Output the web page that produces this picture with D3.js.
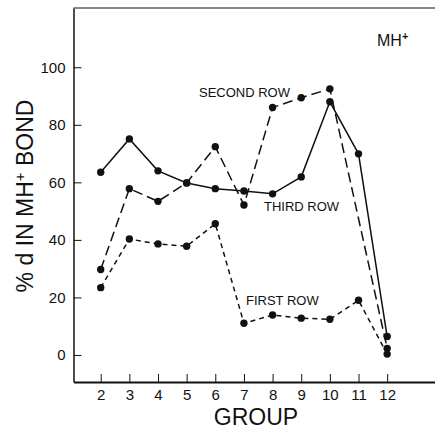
<!DOCTYPE html>
<html><head><meta charset="utf-8">
<script src="https://cdn.jsdelivr.net/npm/d3@7"></script>
<style>
html,body{margin:0;padding:0;background:#fff;}
svg{display:block;font-family:"Liberation Sans",Arial,Helvetica,sans-serif;}
</style></head>
<body>
<script>
const groups = [2,3,4,5,6,7,8,9,10,11,12];
const thirdRow  = [63.5,75.1,64.0,59.8,57.8,57.0,56.0,61.9,88.0,69.9,6.4];
const secondRow = [29.7,57.8,53.4,59.8,72.4,52.1,86.0,89.4,92.5,null,2.3];
const firstRow  = [23.4,40.3,38.6,37.8,45.6,11.0,13.9,12.8,12.4,19.0,0.3];
const yTicks = [0,20,40,60,80,100];
const seriesNames = ["THIRD ROW","SECOND ROW","FIRST ROW"];

const W = 435, H = 431;
const svg = d3.select("body").append("svg").attr("width", W).attr("height", H);

const x = d3.scaleLinear().domain([1.05, 13.67]).range([73.5, 435]);
const y = d3.scaleLinear().domain([-9.4, 120.6]).range([382, 8]);

// frame top
svg.append("line").attr("x1",x(1.05)).attr("x2",x(13.67)).attr("y1",y(120.6)).attr("y2",y(120.6))
  .attr("stroke","#111").attr("stroke-width",1.2);

// axes
const yAxis = d3.axisLeft(y).tickValues(yTicks).tickSizeInner(-8).tickSizeOuter(0).tickPadding(8);
const gy = svg.append("g").attr("transform",`translate(${x(1.05)},0)`).call(yAxis);
gy.select(".domain").attr("stroke","#111").attr("stroke-width",1.5);
gy.selectAll(".tick line").attr("stroke","#111").attr("stroke-width",1);
gy.selectAll(".tick text").attr("font-size",15).attr("fill","#111").attr("font-family","Liberation Sans, Arial, sans-serif");

const xAxis = d3.axisBottom(x).tickValues(groups).tickSizeInner(-8).tickSizeOuter(0).tickPadding(7).tickFormat(d3.format("d"));
const gx = svg.append("g").attr("transform",`translate(0,${y(-9.4)})`).call(xAxis);
gx.select(".domain").attr("stroke","#111").attr("stroke-width",1.8);
gx.selectAll(".tick line").attr("stroke","#111").attr("stroke-width",1);
gx.selectAll(".tick text").attr("font-size",15).attr("fill","#111").attr("font-family","Liberation Sans, Arial, sans-serif");

// axis titles
svg.append("text").attr("x", 256).attr("y", 425).attr("text-anchor","middle")
  .attr("font-size",23).attr("fill","#111").text("GROUP");
const yl = svg.append("text").attr("transform","translate(33,196) rotate(-90)")
  .attr("text-anchor","middle").attr("font-size",23).attr("fill","#111");
yl.append("tspan").text("% d IN MH");
yl.append("tspan").attr("dy",-8).attr("font-size",15).text("+");
yl.append("tspan").attr("dy",8).text(" BOND");

// MH+ label
const mh = svg.append("text").attr("x",377).attr("y",46).attr("font-size",16).attr("fill","#111");
mh.append("tspan").text("MH");
mh.append("tspan").attr("dy",-6).attr("font-size",11).attr("font-weight","bold").text("+");

// series
const series = [
  {name: seriesNames[0], vals: thirdRow, dash: null},
  {name: seriesNames[1], vals: secondRow, dash: "10,5"},
  {name: seriesNames[2], vals: firstRow, dash: "5,4"}
];
const line = d3.line().x(d => x(d.g)).y(d => y(d.v));
series.forEach(s => {
  const pts = groups.map((g,i) => ({g, v: s.vals[i]})).filter(d => d.v !== null);
  svg.append("path").datum(pts).attr("d", line).attr("fill","none")
    .attr("stroke","#111").attr("stroke-width",1.5)
    .attr("stroke-dasharray", s.dash);
  svg.append("g").selectAll("circle").data(pts).join("circle")
    .attr("cx", d => x(d.g)).attr("cy", d => y(d.v)).attr("r", 3.7).attr("fill","#111");
});

// annotations
const ann = [
  {t: seriesNames[1], px: 199, py: 97},
  {t: seriesNames[0], px: 264, py: 211},
  {t: seriesNames[2], px: 246, py: 305}
];
svg.append("g").selectAll("text").data(ann).join("text")
  .attr("x", d => d.px).attr("y", d => d.py).attr("font-size",13).attr("fill","#111").text(d => d.t);
</script>
</body></html>
